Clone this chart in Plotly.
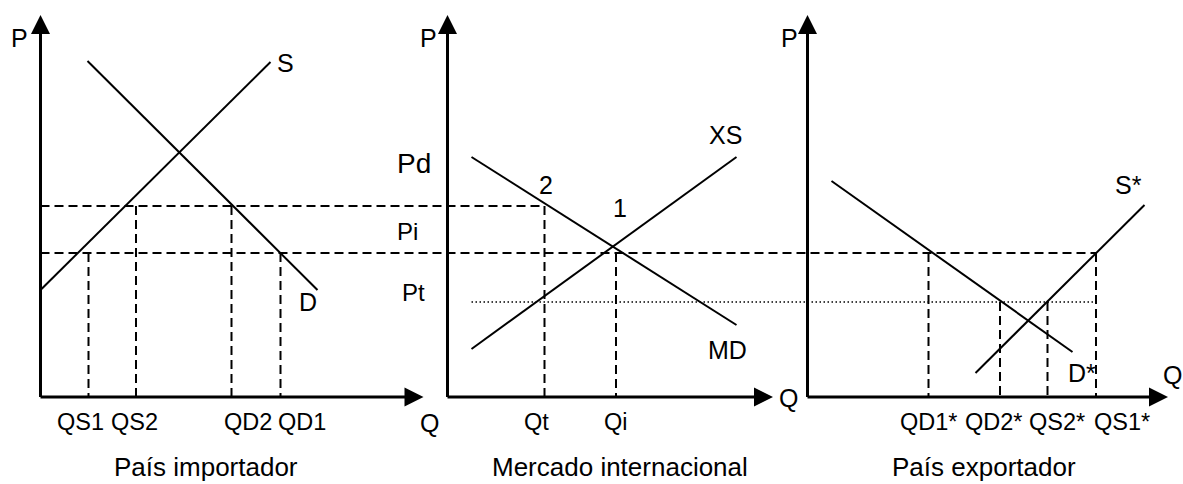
import plotly.graph_objects as go

# price levels shared by the three panels (P units, 0 = the Q axis)
pd_level = 19.1
pi_level = 14.4
pt_level = 9.5
price_labels = ["Pd", "Pi", "Pt"]

# País importador
s_q = [0.0, 23.0]
s_p = [10.7, 33.5]
d_q = [4.7, 27.7]
d_p = [33.6, 10.7]
imp_q = [4.8, 9.55, 19.1, 24.0]            # QS1, QS2, QD2, QD1
imp_p = [pi_level, pd_level, pd_level, pi_level]
imp_labels = ["QS1", "QS2", "QD2", "QD1"]

# Mercado internacional
md_q = [2.4, 28.9]
md_p = [24.0, 7.2]
xs_q = [2.4, 28.9]
xs_p = [4.8, 24.0]
int_q = [9.7, 16.85]                       # Qt, Qi
int_p = [pd_level, pi_level]
int_labels = ["Qt", "Qi"]

# País exportador
dstar_q = [2.4, 26.5]
dstar_p = [21.6, 4.5]
sstar_q = [16.8, 33.7]
sstar_p = [2.4, 19.2]
exp_q = [12.1, 19.25, 24.0, 28.85]         # QD1*, QD2*, QS2*, QS1*
exp_p = [pi_level, pt_level, pt_level, pi_level]
exp_labels = ["QD1*", "QD2*", "QS2*", "QS1*"]

titles = ["País importador", "Mercado internacional", "País exportador"]

# axis lengths
p_axis_len = 38.2
q_axis_len = [38.3, 32.55, 36.05]

# ---- layout ----
W, H = 1183, 484
PX = 10.0                     # pixels per unit, both directions
Y0 = 397                      # pixel row of the Q axes
X0 = [40.5, 447.5, 807.5]     # pixel column of each P axis
AX = ["x", "x2", "x3"]
FONT = "Liberation Sans, Arial, Helvetica, sans-serif"
DASH = "9px,5px"
DOT = "1.5px,2.5px"

# where the text sits (layout only)
imp_label_q = [4.0, 9.35, 20.7, 26.1]
int_label_q = [8.9, 16.85]
exp_label_q = [12.1, 18.6, 24.9, 31.4]
tick_label_p = -2.5
title_q = [16.5, 17.25, 17.65]
title_p = -7.0


def shift(q, src, dst):
    # same pixel column, expressed on another panel's Q axis
    return q + (X0[src] - X0[dst]) / PX


fig = go.Figure()


def line(i, q, p, width=2.0, dash="solid"):
    fig.add_trace(go.Scatter(x=q, y=p, xaxis=AX[i], yaxis="y", mode="lines",
                             line=dict(color="black", width=width, dash=dash),
                             hoverinfo="skip", showlegend=False))


annotations = []


def label(i, q, p, text, size=25):
    annotations.append(dict(x=q, y=p, xref=AX[i], yref="y", text=text,
                            showarrow=False, xanchor="center", yanchor="middle",
                            font=dict(family=FONT, size=size, color="black")))


for i in range(3):
    # axes with arrow heads
    line(i, [0, 0], [0, p_axis_len - 1.0], width=3)
    line(i, [0, q_axis_len[i] - 1.0], [0, 0], width=3)
    fig.add_trace(go.Scatter(x=[0, q_axis_len[i]], y=[p_axis_len, 0],
                             xaxis=AX[i], yaxis="y", mode="markers",
                             marker=dict(symbol=["arrow-up", "arrow-right"], size=19,
                                         color="black", line=dict(width=0)),
                             cliponaxis=False, hoverinfo="skip", showlegend=False))

# horizontal price lines running across the panels
line(1, [shift(0, 0, 1), int_q[0]], [pd_level, pd_level], dash=DASH)
line(2, [shift(0, 0, 2), exp_q[3]], [pi_level, pi_level], dash=DASH)
line(2, [shift(md_q[0], 1, 2), exp_q[3]], [pt_level, pt_level], width=1.3, dash=DOT)

# País importador
line(0, s_q, s_p)
line(0, d_q, d_p)
for q, p in zip(imp_q, imp_p):
    line(0, [q, q], [p, 0], dash=DASH)

# Mercado internacional
line(1, md_q, md_p)
line(1, xs_q, xs_p)
for q, p in zip(int_q, int_p):
    line(1, [q, q], [p, 0], dash=DASH)

# País exportador
line(2, dstar_q, dstar_p)
line(2, sstar_q, sstar_p)
for q, p in zip(exp_q, exp_p):
    line(2, [q, q], [p, 0], dash=DASH)

# text
for i, q in enumerate([-2.15, -1.95, -1.85]):
    label(i, q, 35.9, "P")
label(0, 38.85, -2.6, "Q")
label(1, 34.05, -0.1, "Q")
label(2, 36.45, 2.2, "Q")

label(0, 24.45, 33.4, "S")
label(0, 26.75, 9.5, "D")
label(1, 27.75, 26.2, "XS")
label(1, 28.0, 4.7, "MD")
label(1, 9.85, 21.2, "2")
label(1, 17.2, 18.9, "1")
label(2, 32.05, 21.2, "S*")
label(2, 27.4, 2.4, "D*")

for txt, q, p, size in zip(price_labels, [-3.35, -4.05, -3.4],
                           [23.4, 16.6, 10.5], [28, 24, 24]):
    label(0, shift(q, 1, 0), p, txt, size)

for i, (qs, names) in enumerate([(imp_label_q, imp_labels),
                                  (int_label_q, int_labels),
                                  (exp_label_q, exp_labels)]):
    for q, name in zip(qs, names):
        label(i, q, tick_label_p, name, 23.5)
    label(i, title_q[i], title_p, titles[i], 26)

ranges = [[-X0[i] / PX, (W - X0[i]) / PX] for i in range(3)]
fig.update_layout(
    width=W, height=H,
    margin=dict(l=0, r=0, t=0, b=0),
    paper_bgcolor="white", plot_bgcolor="white",
    showlegend=False,
    xaxis=dict(range=ranges[0], visible=False, fixedrange=True),
    xaxis2=dict(range=ranges[1], visible=False, overlaying="x", anchor="y", fixedrange=True),
    xaxis3=dict(range=ranges[2], visible=False, overlaying="x", anchor="y", fixedrange=True),
    yaxis=dict(range=[(Y0 - H) / PX, Y0 / PX], visible=False, fixedrange=True),
    annotations=annotations,
)

fig.write_html("out.html", config={"displayModeBar": False},
               post_script="document.body.style.margin = '0';")
